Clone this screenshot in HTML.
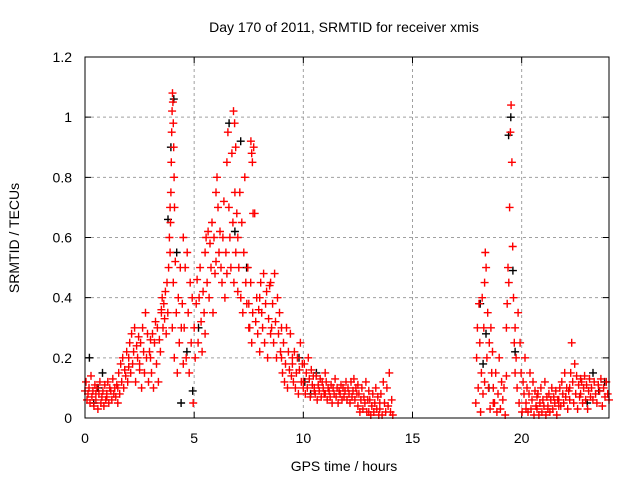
<!DOCTYPE html>
<html><head><meta charset="utf-8"><style>
body{margin:0;background:#fff}
svg{display:block;font-family:"Liberation Sans",sans-serif}
</style></head><body>
<svg id="c" width="640" height="480">
<rect width="640" height="480" fill="#fff"/>
<text x="344" y="32" font-size="14" text-anchor="middle">Day 170 of 2011, SRMTID for receiver xmis</text>
<text x="344" y="471" font-size="14" text-anchor="middle">GPS time / hours</text>
<text transform="translate(19,238) rotate(-90)" font-size="14" text-anchor="middle">SRMTID / TECUs</text>
<g id="grid"></g><g id="ticks"></g><g id="marks"></g>
<rect x="85" y="57" width="524" height="361" fill="none" stroke="#000" stroke-width="1"/>
</svg>
<script>
const xTicks=[0,5,10,15,20];
const yTicks=[0,0.2,0.4,0.6,0.8,1,1.2];
const yTickLabels=["0","0.2","0.4","0.6","0.8","1","1.2"];
// red series: segments [start hour, end hour] with sampled values
const redStarts=[0,0.5,1,1.5,2,2.5,3,3.5,3.9,4,4.5,5,5.5,6,6.5,6.8,7,7.5,7.6,8,8.5,9,9.5,10,10.5,11,11.5,12,12.5,13,13.5,17.9,18.3,18.7,19.3,19.7,20.2,20.7,21.2,21.7,22.2,22.7,23.2];
const redEnds=[0.5,1,1.5,2,2.5,3,3.5,3.9,4.1,4.5,5,5.5,6,6.5,7,6.9,7.5,8,7.7,8.5,9,9.5,10,10.5,11,11.5,12,12.5,13,13.5,14.1,18.3,18.7,19.3,19.7,20.2,20.7,21.2,21.7,22.2,22.7,23.2,24];
const redValues=[
[0.09,0.12,0.06,0.08,0.1,0.05,0.14,0.07,0.09,0.04,0.11,0.08],
[0.06,0.1,0.03,0.08,0.12,0.05,0.07,0.09,0.04,0.11,0.06,0.08],
[0.07,0.12,0.05,0.1,0.09,0.06,0.13,0.08,0.1,0.07,0.11,0.05],
[0.1,0.15,0.08,0.18,0.12,0.2,0.1,0.16,0.14,0.22,0.12,0.17],
[0.2,0.25,0.15,0.28,0.18,0.22,0.3,0.12,0.24,0.2,0.27,0.16],
[0.18,0.25,0.1,0.3,0.22,0.15,0.35,0.2,0.28,0.12,0.22,0.26],
[0.2,0.15,0.28,0.1,0.25,0.32,0.18,0.3,0.12,0.26,0.22,0.35],
[0.36,0.4,0.3,0.38,0.33,0.42,0.28,0.45,0.35,0.5,0.6,0.7],
[0.55,0.65,0.75,0.85,0.95,1.02,1.08,1.05,0.98,0.9,0.8,0.7],
[0.3,0.45,0.2,0.52,0.35,0.15,0.4,0.25,0.5,0.3,0.38,0.18],
[0.6,0.3,0.5,0.2,0.55,0.35,0.15,0.45,0.25,0.4,0.05,0.3],
[0.3,0.2,0.38,0.46,0.25,0.4,0.5,0.32,0.22,0.42,0.35,0.28],
[0.55,0.6,0.45,0.62,0.4,0.58,0.5,0.65,0.35,0.6,0.48,0.52],
[0.75,0.8,0.7,0.55,0.62,0.5,0.45,0.6,0.72,0.4,0.55,0.48],
[0.85,0.95,0.7,0.6,0.5,0.88,0.65,0.45,0.75,0.55,0.68,0.42],
[1.02,0.98,0.9],
[0.6,0.5,0.75,0.4,0.65,0.35,0.55,0.8,0.45,0.38,0.5,0.3],
[0.38,0.3,0.45,0.25,0.35,0.9,0.68,0.32,0.4,0.28,0.36,0.22],
[0.92,0.88,0.85,0.68],
[0.4,0.45,0.35,0.3,0.48,0.25,0.38,0.42,0.2,0.33,0.44,0.28],
[0.45,0.3,0.38,0.25,0.48,0.32,0.2,0.4,0.28,0.35,0.22,0.3],
[0.2,0.15,0.25,0.12,0.18,0.3,0.1,0.22,0.16,0.28,0.14,0.2],
[0.18,0.12,0.22,0.1,0.15,0.2,0.08,0.16,0.25,0.12,0.18,0.1],
[0.12,0.18,0.08,0.15,0.1,0.2,0.13,0.07,0.16,0.11,0.14,0.09],
[0.1,0.08,0.14,0.06,0.11,0.09,0.13,0.07,0.12,0.1,0.08,0.15],
[0.08,0.12,0.06,0.1,0.09,0.07,0.11,0.05,0.1,0.08,0.13,0.07],
[0.07,0.1,0.05,0.09,0.08,0.11,0.06,0.1,0.07,0.09,0.12,0.06],
[0.06,0.1,0.08,0.05,0.12,0.07,0.09,0.13,0.06,0.1,0.08,0.11],
[0.04,0.08,0.02,0.06,0.1,0.03,0.07,0.05,0.12,0.02,0.06,0.09],
[0.02,0.06,0.01,0.04,0.08,0.02,0.05,0.1,0.03,0.07,0.01,0.05],
[0.03,0.08,0.01,0.12,0.05,0.02,0.1,0.04,0.15,0.02,0.06,0.01],
[0.05,0.2,0.3,0.1,0.38,0.25,0.02,0.15,0.4,0.08,0.3,0.12],
[0.45,0.55,0.5,0.2,0.35,0.1,0.25,0.03,0.3,0.15,0.22,0.05],
[0.1,0.05,0.15,0.02,0.08,0.2,0.03,0.12,0.06,0.1,0.01,0.14],
[0.3,0.38,0.5,0.45,0.7,0.95,1.04,0.85,0.57,0.4,0.25,0.15],
[0.3,0.2,0.1,0.35,0.05,0.25,0.15,0.02,0.12,0.08,0.2,0.03],
[0.05,0.1,0.02,0.08,0.15,0.03,0.06,0.12,0.01,0.09,0.04,0.07],
[0.03,0.08,0.01,0.05,0.1,0.02,0.06,0.04,0.12,0.01,0.07,0.03],
[0.04,0.08,0.02,0.06,0.1,0.03,0.07,0.05,0.09,0.01,0.06,0.04],
[0.06,0.1,0.04,0.12,0.08,0.05,0.15,0.07,0.1,0.03,0.09,0.06],
[0.1,0.15,0.25,0.12,0.05,0.18,0.08,0.14,0.03,0.11,0.07,0.13],
[0.08,0.12,0.05,0.1,0.14,0.06,0.11,0.03,0.09,0.13,0.07,0.1],
[0.1,0.06,0.12,0.08,0.05,0.11,0.09,0.13,0.04,0.1,0.07,0.12,0.08,0.06]
];
// black series (mostly hidden under red)
const blackStarts=[0.2,3.8,4.4,6.6,9.8,18.1,19.4,23];
const blackEnds=[0.8,4.2,5.2,7.4,10.6,18.5,19.7,23.8];
const blackValues=[
[0.2,0.05,0.1,0.15],
[0.66,0.9,1.06,0.55],
[0.05,0.22,0.09,0.3],
[0.98,0.62,0.92,0.5],
[0.2,0.12,0.08,0.15],
[0.38,0.18,0.28,0.1],
[0.94,1.0,0.49,0.22],
[0.05,0.15,0.09,0.12]
];
const X0=85,X1=609,Y0=418,Y1=57;
const xs=t=>X0+t*(X1-X0)/24;
const ys=v=>Y0-v*(Y0-Y1)/1.2;
const NS="http://www.w3.org/2000/svg";
function mk(tag,attrs,parent){const e=document.createElementNS(NS,tag);for(const k in attrs)e.setAttribute(k,attrs[k]);parent.appendChild(e);return e;}
const grid=document.getElementById('grid'),ticks=document.getElementById('ticks'),marks=document.getElementById('marks');
xTicks.forEach(t=>{
  const x=xs(t);
  if(t>0){const g=mk('line',{x1:x,x2:x,y1:Y1,y2:Y0,stroke:'#a0a0a0','stroke-dasharray':'3,3'},grid);
  
  }
  const tk=mk('path',{d:`M${x},${Y0}v-6M${x},${Y1}v6`,stroke:'#000'},ticks);
  
  
  const l=mk('text',{x:x,y:Y0+25,'font-size':14,'text-anchor':'middle'},ticks);l.textContent=t;
  
  
});
yTicks.forEach((v,i)=>{
  const y=ys(v);
  if(v>0&&v<1.2){const g=mk('line',{x1:X0,x2:X1,y1:y,y2:y,stroke:'#a0a0a0','stroke-dasharray':'3,3'},grid);
  
  }
  const tk=mk('path',{d:`M${X0},${y}h6M${X1},${y}h-6`,stroke:'#000'},ticks);
  
  
  const l=mk('text',{x:X0-13,y:y+5,'font-size':14,'text-anchor':'end'},ticks);l.textContent=yTickLabels[i];
  
  
});
function series(starts,ends,vals,color,name){
  let d='';
  vals.forEach((arr,i)=>{
    const n=arr.length;
    arr.forEach((v,j)=>{
      const t=starts[i]+(ends[i]-starts[i])*(n>1?j/(n-1):0);
      const x=xs(t),y=ys(v);
      d+=`M${(x-4).toFixed(1)},${y.toFixed(1)}h8M${x.toFixed(1)},${(y-4).toFixed(1)}v8`;
    });
  });
  const p=mk('path',{d:d,stroke:color,'stroke-width':1.4,fill:'none'},marks);
  
  
}
series(blackStarts,blackEnds,blackValues,'#000','black-series-points');
series(redStarts,redEnds,redValues,'#ff0000','red-series-points');
</script>
</body></html>
